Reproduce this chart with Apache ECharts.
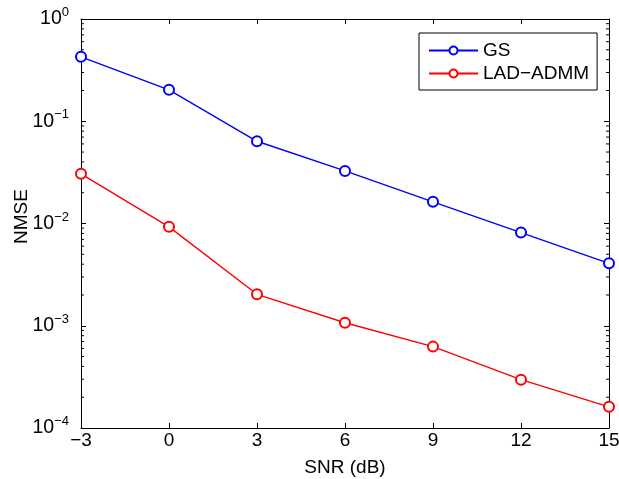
<!DOCTYPE html>
<html>
<head>
<meta charset="utf-8">
<script src="https://cdn.jsdelivr.net/npm/echarts@6/dist/echarts.min.js"></script>
<style>
html,body{margin:0;padding:0;background:#fff;}
#chart{width:619px;height:479px;}
</style>
</head>
<body>
<div id="chart"></div>
<script>
const snr = [-3, 0, 3, 6, 9, 12, 15];
const gs = [0.427, 0.203, 0.0637, 0.0327, 0.0163, 0.00815, 0.00408];
const ladAdmm = [0.0306, 0.00927, 0.00203, 0.00107, 0.000625, 0.000297, 0.000161];
const seriesNames = ['GS', 'LAD\u2212ADMM'];
const minorTicks = [];
[1e-4, 1e-3, 1e-2, 1e-1].forEach(function (d) {
  [2, 3, 4, 5, 6, 7, 8, 9].forEach(function (m) { minorTicks.push(+(d * m).toPrecision(3)); });
});

const FONT = 'Liberation Sans, Arial, Helvetica, sans-serif';
const chart = echarts.init(document.getElementById('chart'), null, {renderer: 'canvas'});

function xl(v) { return v < 0 ? '\u2212' + Math.abs(v) : String(v); }
function yl(v) {
  const e = Math.round(Math.log10(v));
  return '{b|10}{s|' + (e < 0 ? '\u2212' + Math.abs(e) : String(e)) + '}';
}

const tickLine = {show: true, inside: true, length: 5, lineStyle: {color: '#000', width: 1}};
const axisLine = {show: true, onZero: false, lineStyle: {color: '#000', width: 1}};

chart.setOption({
  animation: false,
  backgroundColor: '#fff',
  textStyle: {fontFamily: FONT},
  grid: {left: 81, right: 10, top: 19, bottom: 51, containLabel: false, outerBoundsMode: 'none'},
  legend: {
    data: seriesNames,
    orient: 'vertical',
    left: 419, top: 33,
    padding: [8, 8, 7, 9],
    itemWidth: 49, itemHeight: 10, itemGap: 4,
    backgroundColor: '#fff',
    borderColor: '#000', borderWidth: 1, borderRadius: 0,
    textStyle: {fontFamily: FONT, fontSize: 19, color: '#000', lineHeight: 19}
  },
  xAxis: [{
    type: 'value', min: -3, max: 15, interval: 3,
    position: 'bottom',
    name: 'SNR (dB)', nameLocation: 'middle', nameGap: 30, nameMoveOverlap: false,
    nameTextStyle: {fontFamily: FONT, fontSize: 19, color: '#000'},
    axisLine: axisLine, axisTick: tickLine, splitLine: {show: false},
    axisLabel: {formatter: xl, fontFamily: FONT, fontSize: 19, color: '#000', margin: 3}
  }, {
    type: 'value', min: -3, max: 15, interval: 3,
    position: 'top',
    axisLine: axisLine, axisTick: tickLine, splitLine: {show: false},
    axisLabel: {show: false}
  }],
  yAxis: [{
    type: 'log', min: 1e-4, max: 1, logBase: 10,
    position: 'left',
    name: 'NMSE', nameLocation: 'middle', nameGap: 50, nameMoveOverlap: false,
    nameTextStyle: {fontFamily: FONT, fontSize: 19, color: '#000', padding: [0, 0, 0, 14]},
    axisLine: axisLine, axisTick: tickLine, splitLine: {show: false}, minorTick: {show: false},
    axisLabel: {
      formatter: yl, margin: 12,
      rich: {
        b: {fontFamily: FONT, fontSize: 19.5, color: '#000', lineHeight: 20},
        s: {fontFamily: FONT, fontSize: 13, color: '#000', lineHeight: 13, padding: [0, 0, 13, 0]}
      }
    }
  }, {
    type: 'log', min: 1e-4, max: 1, logBase: 10,
    position: 'right',
    axisLine: axisLine, axisTick: tickLine, splitLine: {show: false},
    axisLabel: {show: false}
  }],
  series: [{
    name: seriesNames[0], type: 'line',
    data: snr.map(function (x, i) { return [x, gs[i]]; }),
    symbol: 'emptyCircle', symbolSize: 10,
    lineStyle: {color: '#0000ff', width: 1.4},
    itemStyle: {color: '#0000ff', borderColor: '#0000ff', borderWidth: 1.4},
    color: '#0000ff', clip: false
  }, {
    name: seriesNames[1], type: 'line',
    data: snr.map(function (x, i) { return [x, ladAdmm[i]]; }),
    symbol: 'emptyCircle', symbolSize: 10,
    lineStyle: {color: '#ff0000', width: 1.4},
    itemStyle: {color: '#ff0000', borderColor: '#ff0000', borderWidth: 1.4},
    color: '#ff0000', clip: false
  }, {
    name: 'minor', type: 'custom', silent: true, clip: false, z: 1,
    data: minorTicks.map(function (v) { return [v]; }),
    renderItem: function (params, api) {
      const v = api.value(0);
      const l = api.coord([-3, v]);
      const r = api.coord([15, v]);
      return {
        type: 'group',
        children: [
          {type: 'line', shape: {x1: l[0], y1: l[1], x2: l[0] + 3, y2: l[1]}, style: {stroke: '#000', lineWidth: 1}},
          {type: 'line', shape: {x1: r[0] - 3, y1: r[1], x2: r[0], y2: r[1]}, style: {stroke: '#000', lineWidth: 1}}
        ]
      };
    }
  }]
});
</script>
</body>
</html>
